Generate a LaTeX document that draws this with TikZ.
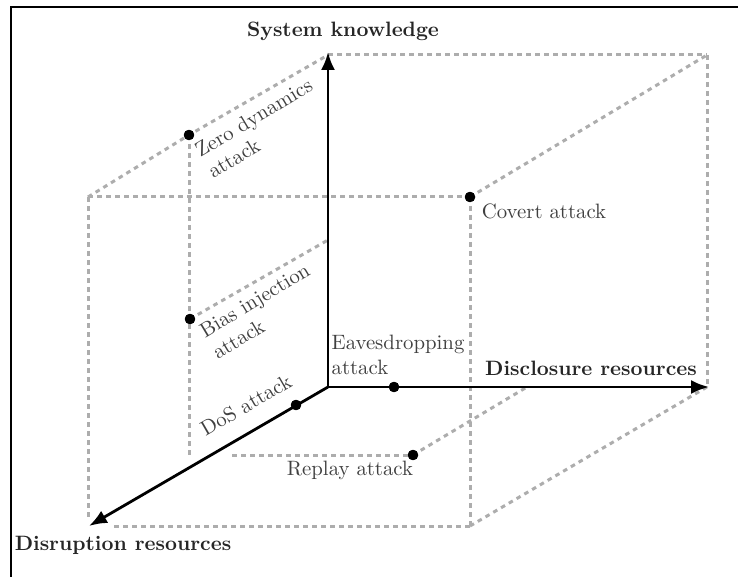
\documentclass[tikz,border=0pt]{standalone}
\usetikzlibrary{arrows.meta}
\begin{document}
\begin{tikzpicture}[x=0.5pt,y=-0.5pt,
  font=\fontsize{10.4pt}{12.4pt}\selectfont,
  guide/.style={draw=black!32, line width=1.5pt, dash pattern=on 2.3pt off 2.2pt},
  axisline/.style={draw=black, line width=1.4pt, -{Latex[length=9pt,width=7pt]}},
  dot/.style={circle, fill=black, inner sep=0pt, minimum size=5.2pt},
  attack/.style={text=black!75, inner sep=0pt},
  axislabel/.style={font=\fontsize{10.4pt}{12.4pt}\selectfont\bfseries, text=black!85, inner sep=0pt}]
\useasboundingbox (0,0) rectangle (738,577);
% frame
\draw[line width=1pt] (11,577) -- (11,7) -- (738,7);

% corners of the box
\coordinate (O)   at (328,387);
\coordinate (BTL) at (328,55);
\coordinate (BTR) at (707,55);
\coordinate (BBR) at (707,387);
\coordinate (FTL) at (88,197);
\coordinate (FBL) at (88,520);
\coordinate (FBLh) at (114,526);
\coordinate (FBR) at (470,526);
% axis tips
\coordinate (Kt) at (328,52);
\coordinate (Dt) at (709,387);
\coordinate (Rt) at (89,526);
% inner guide ends
\coordinate (zdB) at (189,458);
\coordinate (biE) at (328,240);
\coordinate (rpS) at (232,455);
\coordinate (rpE) at (527,387);

% attack points
\node[dot] (zd) at (189,135) {};
\node[dot] (bi) at (190,319) {};
\node[dot] (cv) at (470,197) {};
\node[dot] (ev) at (394,387) {};
\node[dot] (ds) at (296,405) {};
\node[dot] (rp) at (413,455) {};

% dashed box and inner guides
\draw[guide] (FTL) -- (cv.center);
\draw[guide] (FTL) -- (zd.center) -- (BTL);
\draw[guide] (BTL) -- (BTR);
\draw[guide] (BTR) -- (BBR);
\draw[guide] (cv.center) -- (BTR);
\draw[guide] (cv.center) -- (FBR);
\draw[guide] (FTL) -- (FBL);
\draw[guide] (FBLh) -- (FBR);
\draw[guide] (FBR) -- (BBR);
\draw[guide] (zd.center) -- (zdB);
\draw[guide] (bi.center) -- (biE);
\draw[guide] (rpS) -- (rp.center);
\draw[guide] (rp.center) -- (rpE);

% axes
\draw[axisline] (O) -- (Kt);
\draw[axisline] (O) -- (Dt);
\draw[axisline] (O) -- (Rt);

% points on top of the lines
\foreach \p in {zd,bi,cv,ev,ds,rp} \fill (\p) circle (2.6pt);

% axis labels
\node[axislabel] (lk) at (343,31) {System knowledge};
\node[axislabel] (ld) at (591,368) {Disclosure resources};
\node[axislabel] (lr) at (123,545) {Disruption resources};

% attack labels
\node[attack, rotate=31, align=left] (lzd) at (260,128) {Zero dynamics\\attack};
\node[attack, rotate=31, align=left] (lbi) at (261,311) {Bias injection\\attack};
\node[attack, rotate=30] (lds) at (246,405) {DoS attack};
\node[attack, align=left] (lev) at (398,355) {Eavesdropping\\attack};
\node[attack] (lcv) at (544,211) {Covert attack};
\node[attack] (lrp) at (350,470) {Replay attack};
\end{tikzpicture}
\end{document}
